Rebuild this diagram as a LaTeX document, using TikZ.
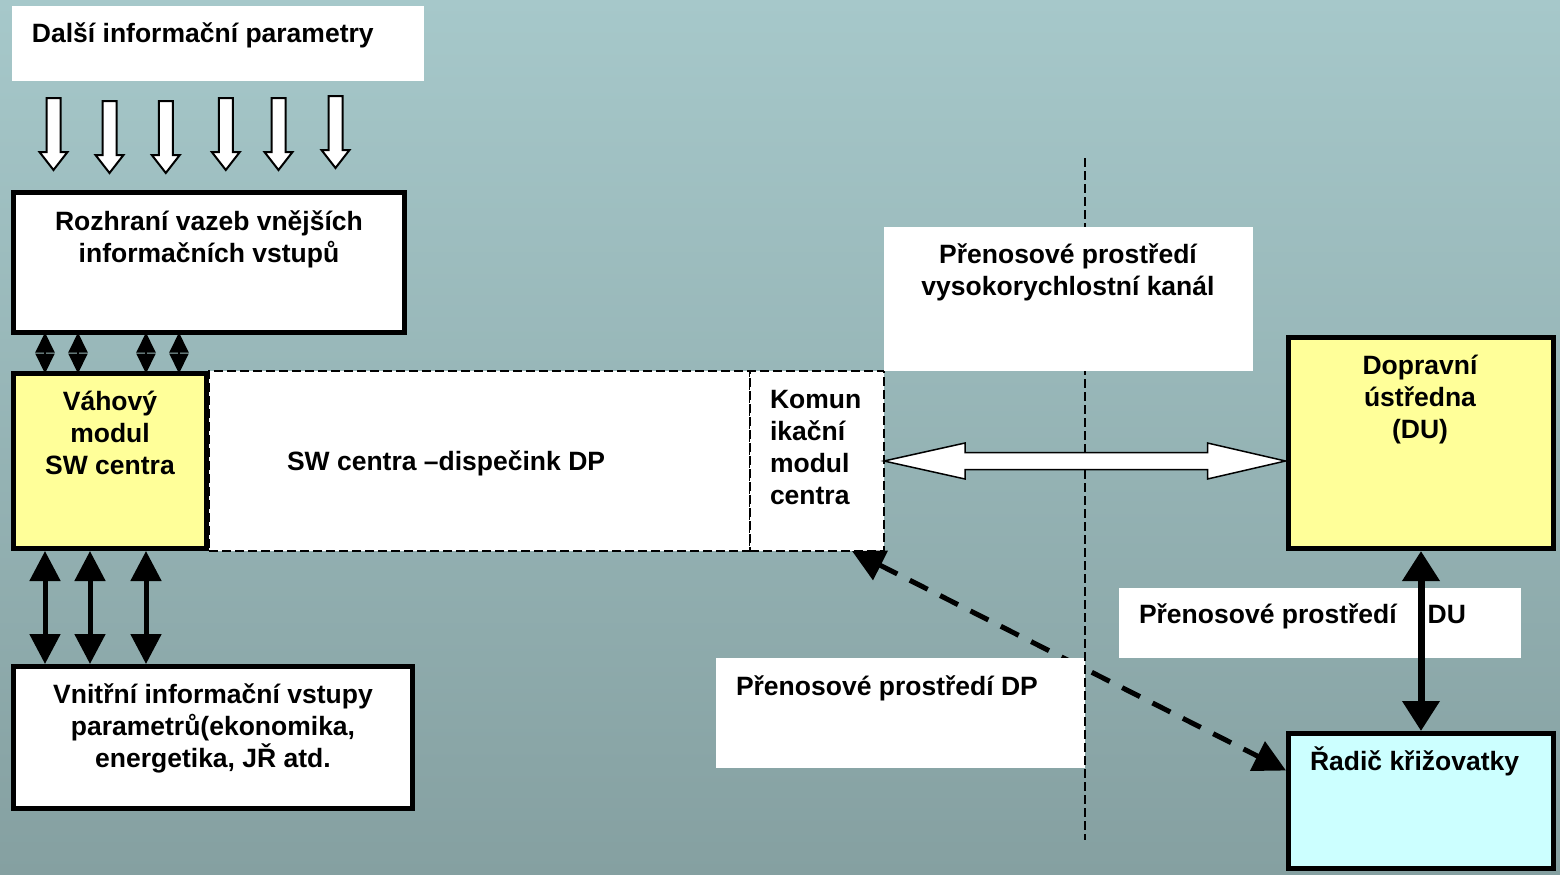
\documentclass[tikz,border=0pt]{standalone}
\usepackage{fontspec}
\setmainfont{Liberation Sans}
\usetikzlibrary{arrows.meta,calc,fit}
\definecolor{bgtop}{HTML}{A6C8CA}
\definecolor{bgbot}{HTML}{85A0A1}
\definecolor{paleyellow}{HTML}{FFFF99}
\definecolor{palecyan}{HTML}{CCFFFF}
\begin{document}
\begin{tikzpicture}[x=0.5pt,y=-0.5pt,
  every node/.style={inner sep=0pt, outer sep=0pt},
  txt/.style={font=\fontsize{13.25}{16}\selectfont\bfseries, align=center},
  thickbox/.style={draw=black, line width=2.5pt},
  dashbox/.style={draw=black, fill=white, line width=0.75pt, dash pattern=on 4.5pt off 2pt},
  plainbox/.style={fill=white},
  hollow/.style={draw=black, fill=white, line width=1pt, line join=miter},
  smalldbl/.style={line width=1pt, {Triangle[width=9.5pt,length=10pt]}-{Triangle[width=9.5pt,length=10pt]}},
  bigdbl/.style={line width=2.5pt, shorten <=1.25pt, shorten >=1.25pt,
    {Triangle[width=15pt,length=15pt]}-{Triangle[width=15pt,length=15pt]}},
  duarrow/.style={line width=3.5pt, shorten <=1.25pt, shorten >=1.25pt,
    {Triangle[width=18pt,length=15pt]}-{Triangle[width=18pt,length=15pt]}},
  dasharrow/.style={line width=2.5pt, dash pattern=on 10pt off 7pt,
    {Triangle[width=16pt,length=16pt]}-{Triangle[width=16pt,length=16pt]}},
  divider/.style={line width=1pt, dash pattern=on 4.5pt off 2pt}
]
\useasboundingbox (0,0) rectangle (1560,874);
\shade[top color=bgtop, bottom color=bgbot] (0,0) rectangle (1560,874);

% input parameters panel and its six hollow arrows
\node[plainbox, fit={(12,6) (424,81)}] (dalsi) {};
\foreach \xa/\ya/\yb in {53.5/98/170, 109.5/101/173, 165.8/101/173, 225.8/98/170, 278.5/98/170, 335.5/96/168}
  \draw[hollow] (\xa-7,\ya) -- (\xa+7,\ya) -- (\xa+7,\yb-18) -- (\xa+14,\yb-18) -- (\xa,\yb)
    -- (\xa-14,\yb-18) -- (\xa-7,\yb-18) -- cycle;

% left column boxes
\node[thickbox, fill=white, fit={(13.5,192.5) (404.5,332.5)}] (rozh) {};
\node[dashbox, fit={(209,371) (750,551)}] (sw) {};
\node[dashbox, fit={(750,371) (884,551)}] (komun) {};
\node[thickbox, fill=paleyellow, fit={(13.5,373.5) (206.5,548.5)}] (vah) {};
\node[thickbox, fill=white, fit={(13.5,666.5) (412.5,808.5)}] (vnitr) {};

% right column boxes
\node[thickbox, fill=paleyellow, fit={(1288.5,337.5) (1553.5,548.5)}] (dopr) {};
\node[thickbox, fill=palecyan, fit={(1288.5,733.5) (1553.5,868.5)}] (radic) {};

% dashed link centre -- controller
\draw[dasharrow] ($(komun.south east)+(-32,0)$) -- ($(radic.north west)+(-2.5,37)$);

% transmission labels and the dividing line
\node[plainbox, fit={(716,658) (1085,768)}] (dpbox) {};
\draw[divider] (1085,158) -- (1085,840);
\node[plainbox, fit={(884,227) (1253,371)}] (vysok) {};
\node[plainbox, fit={(1119,588) (1521,658)}] (dubox) {};

% high-speed channel (hollow double arrow)
\coordinate (hl) at (komun.east);
\coordinate (hr0) at (hl -| dopr.west);
\coordinate (hr) at ($(hr0)+(-3,0)$);
\draw[hollow, line width=0.75pt] (hl) -- ($(hl)+(81,-18)$) -- ($(hl)+(81,-8.5)$)
  -- ($(hr)+(-78,-8.5)$) -- ($(hr)+(-78,-18)$) -- (hr) -- ($(hr)+(-78,18)$)
  -- ($(hr)+(-78,8.5)$) -- ($(hl)+(81,8.5)$) -- ($(hl)+(81,18)$) -- cycle;

% links between the left boxes
\foreach \xa [count=\i] in {45,78,146,179}
  \coordinate (s\i) at (\xa,0);
\foreach \i in {1,...,4}
  \draw[smalldbl] (rozh.south -| s\i) -- (vah.north -| s\i);
\foreach \xa [count=\i] in {45,90,146}
  \coordinate (b\i) at (\xa,0);
\foreach \i in {1,...,3}
  \draw[bigdbl] (vah.south -| b\i) -- (vnitr.north -| b\i);

% link traffic centre -- controller
\coordinate (du) at (1421,0);
\draw[duarrow] (dopr.south -| du) -- (radic.north -| du);

% texts
\node[txt, anchor=base west] (tdalsi) at (32,42) {Další informační parametry};
\node[txt, anchor=north] (trozh) at (209,207.6) {\strut Rozhraní vazeb vnějších\\informačních vstupů};
\node[txt, anchor=north] (tvah) at (110,387.6) {\strut Váhový\\modul\\SW centra};
\node[txt, anchor=base west] (tsw) at (287,470) {SW centra –dispečink DP};
\node[txt, anchor=north west, align=left] (tkomun) at (770,385.6) {\strut Komun\\ikační\\modul\\centra};
\node[txt, anchor=north] (tvnitr) at (213,680.6) {\strut Vnitřní informační vstupy\\parametrů(ekonomika,\\energetika, JŘ atd.};
\node[txt, anchor=north] (tvysok) at (1068,240.6) {\strut Přenosové prostředí\\vysokorychlostní kanál};
\node[txt, anchor=north] (tdopr) at (1420,351.6) {\strut Dopravní\\ústředna\\(DU)};
\node[txt, anchor=base west] (tdu) at (1139,623) {Přenosové prostředí\hspace{15.5pt}DU};
\node[txt, anchor=base west] (tdp) at (736,695) {Přenosové prostředí DP};
\node[txt, anchor=base west] (tradic) at (1310,770) {Řadič křižovatky};
\end{tikzpicture}
\end{document}
